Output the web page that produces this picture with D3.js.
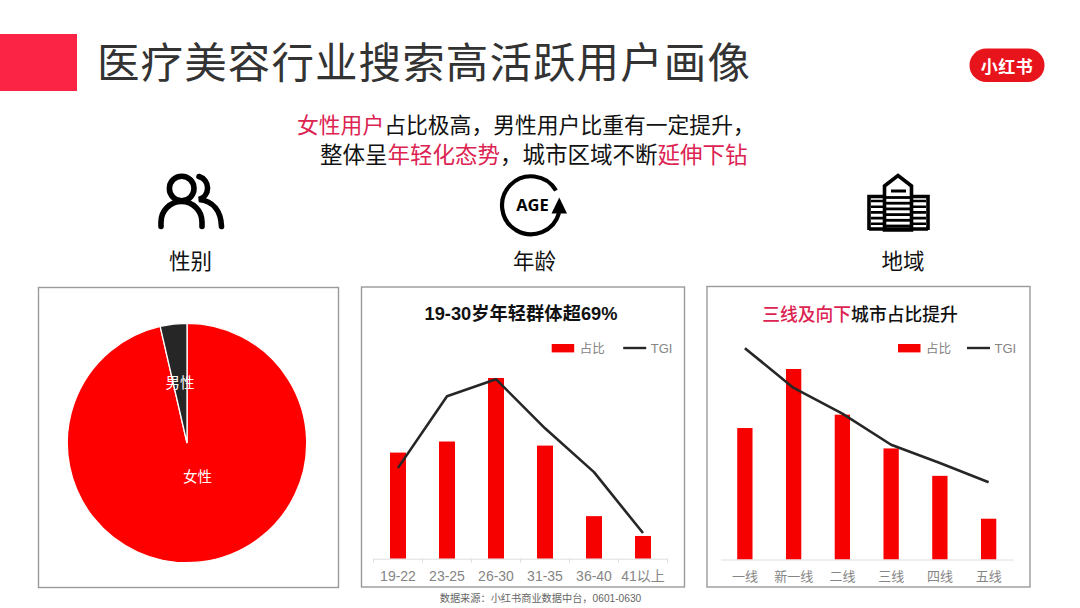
<!DOCTYPE html>
<html lang="zh">
<head>
<meta charset="utf-8">
<script src="https://cdn.jsdelivr.net/npm/d3@7/dist/d3.min.js"></script>
<style>
html,body{margin:0;padding:0;background:#fff;overflow:hidden}
text{font-family:"Noto Sans CJK SC","Liberation Sans",sans-serif}
</style>
</head>
<body>
<svg id="c" width="1080" height="608" viewBox="0 0 1080 608"></svg>
<script>
// ---------- data ----------
const genderLabels = ["男性", "女性"];
const genderShare = [3.6, 96.4];

const ageCategories = ["19-22", "23-25", "26-30", "31-35", "36-40", "41以上"];
const ageShare = [18.2, 20.1, 31.0, 19.4, 7.3, 3.9];
const ageTGI = [85, 152, 168, 122, 81, 24];

const cityCategories = ["一线", "新一线", "二线", "三线", "四线", "五线"];
const cityShare = [18.7, 27.1, 20.6, 15.8, 11.9, 5.8];
const cityTGI = [197, 160, 136, 107, 90, 72];

const tgiMax = 200;

const titleText = "医疗美容行业搜索高活跃用户画像";
const subtitleLine1 = [["女性用户", true], ["占比极高，男性用户比重有一定提升，", false]];
const subtitleLine2 = [["整体呈", false], ["年轻化态势", true], ["，城市区域不断", false], ["延伸下钻", true]];
const ageTitle = "19-30岁年轻群体超69%";
const cityTitle = [["三线及向下", true], ["城市占比提升", false]];
const sourceText = "数据来源：小红书商业数据中台，0601-0630";

// ---------- palette ----------
const RED = "#f70000", PINK = "#dc2352", INK = "#111", DARK = "#262626", GREY = "#858585";
const CJK = '"Noto Sans CJK SC",sans-serif';
const LATIN = '"Liberation Sans","Noto Sans CJK SC",sans-serif';

const svg = d3.select("#c");
svg.append("rect").attr("width", 1080).attr("height", 608).attr("fill", "#fff");

function label(x, y, content, opts = {}) {
  const t = svg.append("text").attr("x", x).attr("y", y)
    .attr("text-anchor", opts.anchor || "middle")
    .attr("dominant-baseline", "central")
    .attr("font-size", opts.size || 14)
    .attr("font-weight", opts.weight || 400)
    .attr("fill", opts.fill || INK)
    .style("font-family", opts.family || CJK);
  if (opts.spacing) t.attr("letter-spacing", opts.spacing);
  if (Array.isArray(content)) {
    content.forEach(([s, hi]) => t.append("tspan").attr("fill", hi ? PINK : (opts.fill || INK)).text(s));
  } else t.text(content);
  return t;
}

// ---------- header ----------
svg.append("rect").attr("x", 0).attr("y", 34).attr("width", 77).attr("height", 57).attr("fill", "#fb2444");
label(97, 59, titleText, {anchor: "start", size: 42.5, fill: "#333", spacing: 1.1});

svg.append("rect").attr("x", 969.5).attr("y", 48.5).attr("width", 75).attr("height", 33.5).attr("rx", 16.7).attr("fill", "#e8141c");
label(1007, 65, "小红书", {size: 17, weight: 700, fill: "#fff", spacing: 0.5});

label(297, 122.8, subtitleLine1, {anchor: "start", size: 21.8});
label(320, 152.5, subtitleLine2, {anchor: "start", size: 22.5});

label(190.5, 259, "性别", {size: 21.5});
label(534.5, 259, "年龄", {size: 21.5});
label(903, 259, "地域", {size: 21.5});

// ---------- icons ----------
const people = svg.append("g").attr("fill", "none").attr("stroke", "#000").attr("stroke-width", 5.6).attr("stroke-linecap", "round");
people.append("circle").attr("cx", 181.7).attr("cy", 188.5).attr("r", 12.3);
people.append("path").attr("d", "M161 226.5 V222 A20.5 20.5 0 0 1 202 222 V226.5");
people.append("path").attr("d", "M199 176.5 A12 12 0 0 1 199 199.5 C213 201 221 211 221.5 226.5");

const age = svg.append("g");
age.append("path").attr("fill", "none").attr("stroke", "#000").attr("stroke-width", 4.2)
  .attr("d", "M556 190.5 A29 29 0 1 0 559 213");
age.append("path").attr("fill", "#000").attr("d", "M559.3 197.5 L567 213.5 L551.5 213.5 Z");
label(532.5, 204.5, "AGE", {size: 16.5, weight: 700, fill: "#000", family: '"Open Sans",sans-serif'});

const building = svg.append("g").attr("fill", "none").attr("stroke", "#000");
building.append("path").attr("stroke-width", 3.6).attr("d", "M884.5 230 V186 L898 175.5 L911.5 186 V230 Z");
building.append("path").attr("stroke-width", 3.6).attr("d", "M869 230 V196.5 H884.5 M911.5 196.5 H928 V230 M869 229 H928");
building.append("path").attr("stroke-width", 3).attr("d", "M891 191 H906");
d3.range(6).forEach(i => {
  const y = 197.5 + i * 5.7;
  building.append("path").attr("stroke-width", 2.8).attr("d", `M886 ${y} H910`);
});
d3.range(5).forEach(i => {
  const y = 201 + i * 5.7;
  building.append("path").attr("stroke-width", 2.6).attr("d", `M871 ${y} H883 M913 ${y} H926`);
});

// ---------- panels ----------
[[38.5, 287.5, 300, 300], [361.5, 287, 323, 300], [707, 286.5, 323, 300.5]].forEach(([x, y, w, h]) =>
  svg.append("rect").attr("x", x).attr("y", y).attr("width", w).attr("height", h)
    .attr("fill", "#fff").attr("stroke", "#9a9a9a").attr("stroke-width", 1.4));

// ---------- pie ----------
const pieG = svg.append("g").attr("transform", "translate(187,443)");
const pieData = d3.pie().sort(null).value(d => d)(genderShare.slice().reverse());
const arc = d3.arc().innerRadius(0).outerRadius(119.7);
pieG.selectAll("path").data(pieData).join("path")
  .attr("d", arc)
  .attr("fill", (d, i) => i === 0 ? "#ff0000" : DARK)
  .attr("stroke", "#fff").attr("stroke-width", 1.3);
label(180, 381.5, genderLabels[0], {size: 14.5, fill: "#fff"});
label(197.5, 475.5, genderLabels[1], {size: 14.5, fill: "#fff"});

// ---------- combo charts ----------
function combo(cfg) {
  const x = d3.scaleBand().domain(cfg.cats).range(cfg.xRange).padding(0);
  const y = d3.scaleLinear().domain([0, cfg.shareMax]).range([cfg.base, cfg.base - cfg.shareMax * cfg.pxPerPct]);
  const yT = d3.scaleLinear().domain([0, tgiMax]).range([cfg.base, 345]);
  const g = svg.append("g");
  g.selectAll("rect.bar").data(cfg.share).join("rect").attr("class", "bar")
    .attr("x", (d, i) => x(cfg.cats[i]) + x.bandwidth() / 2 - cfg.barW / 2)
    .attr("width", cfg.barW)
    .attr("y", d => y(d))
    .attr("height", d => cfg.base - y(d))
    .attr("fill", RED);
  const axis = g.append("g").attr("transform", `translate(0,${cfg.base})`)
    .call(d3.axisBottom(x).tickSize(0).tickPadding(cfg.tickPad));
  axis.select(".domain").attr("stroke", "#dedede").attr("stroke-width", 1);
  axis.selectAll("text").attr("fill", GREY).attr("font-size", cfg.tickSize)
    .style("font-family", cfg.tickFamily);
  if (cfg.edgeTicks) {
    d3.range(cfg.cats.length + 1).forEach(i => {
      const px = cfg.xRange[0] + i * x.bandwidth();
      g.append("line").attr("x1", px).attr("x2", px).attr("y1", cfg.base).attr("y2", cfg.base + 4)
        .attr("stroke", "#dedede");
    });
  }
  const line = d3.line().x((d, i) => x(cfg.cats[i]) + x.bandwidth() / 2).y(d => yT(d));
  g.append("path").attr("d", line(cfg.tgi)).attr("fill", "none")
    .attr("stroke", DARK).attr("stroke-width", 2.6).attr("stroke-linejoin", "round");
  // legend
  const lx = cfg.legendX;
  g.append("rect").attr("x", lx).attr("y", 344).attr("width", 22.5).attr("height", 8.4).attr("fill", RED);
  label(lx + 28, 347, "占比", {anchor: "start", size: 12.5, fill: GREY});
  g.append("line").attr("x1", lx + cfg.lineGap).attr("x2", lx + cfg.lineGap + 23).attr("y1", 348).attr("y2", 348)
    .attr("stroke", DARK).attr("stroke-width", 2.4);
  label(lx + cfg.lineGap + 27.5, 348, "TGI", {anchor: "start", size: 13, fill: GREY, family: LATIN});
}

combo({
  cats: ageCategories, share: ageShare, tgi: ageTGI, shareMax: 35, pxPerPct: 5.83,
  base: 558.7, xRange: [373.5, 667.5], barW: 16, tickPad: 12, tickSize: 14, tickFamily: LATIN,
  edgeTicks: true, legendX: 551.7, lineGap: 71.5
});
combo({
  cats: cityCategories, share: cityShare, tgi: cityTGI, shareMax: 30, pxPerPct: 7.03,
  base: 559.5, xRange: [720.5, 1013], barW: 15.3, tickPad: 12, tickSize: 13, tickFamily: CJK,
  edgeTicks: false, legendX: 898, lineGap: 69
});

label(521, 313, ageTitle, {size: 18.3, weight: 700, family: LATIN});
label(860, 312.5, cityTitle, {size: 17.8, weight: 500});
label(540.5, 598, sourceText, {size: 10.2, fill: "#666", family: LATIN});
</script>
</body>
</html>
